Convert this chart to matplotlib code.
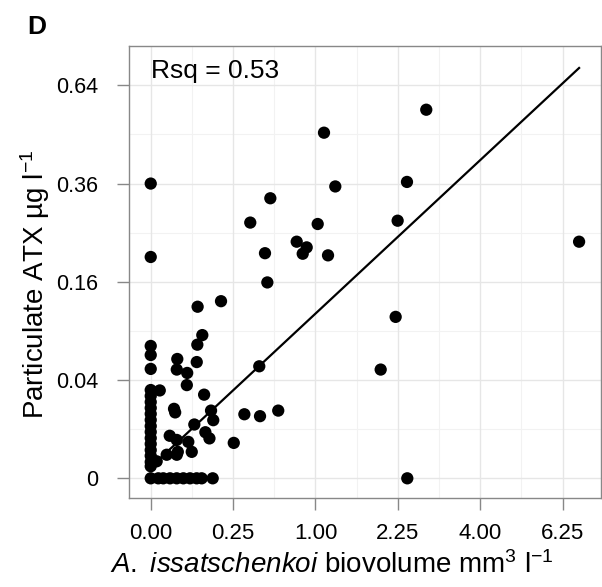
import numpy as np
import matplotlib
matplotlib.use("Agg")
import matplotlib.pyplot as plt

plt.rcParams["font.family"] = ["Liberation Sans", "DejaVu Sans"]
plt.rcParams["mathtext.fontset"] = "custom"
plt.rcParams["mathtext.rm"] = "Liberation Sans"
plt.rcParams["mathtext.it"] = "Liberation Sans:italic"

# biovolume (mm3 l-1) and particulate ATX (ug l-1)
biovolume = [
    1.106, 0.0, 1.255, 0.527, 0.365, 1.027, 0.785, 0.896, 0.851, 0.481,
    1.158, 0.0, 0.501, 2.797, 2.419, 2.246, 6.76, 2.210, 1.948, 2.425,
    0.182, 0.081, 0.098, 0.080, 0.078, 0.026, 0.025, 0.049, 0.048, 0.434,
    0.105, 0.003, 0.020, 0.022, 0.134, 0.144, 0.323, 0.440, 0.599, 0.070,
    0.110, 0.127, 0.0133, 0.025, 0.052, 0.062, 0.254, 0.027, 0.025, 0.0094,
    0.0013,
    0.0, 0.0, 0.0,
    0.0, 0.0, 0.0, 0.0, 0.0, 0.0, 0.0, 0.0, 0.0, 0.0, 0.0, 0.0, 0.0, 0.0,
    0.0,
    0.0021, 0.0058, 0.0137, 0.0249, 0.0392, 0.0568, 0.0777, 0.0957, 0.1415,
]
atx = [
    0.495, 0.36, 0.353, 0.325, 0.271, 0.268, 0.232, 0.221, 0.209, 0.210,
    0.206, 0.203, 0.159, 0.563, 0.364, 0.275, 0.232, 0.108, 0.049, 0.0,
    0.130, 0.122, 0.085, 0.074, 0.056, 0.059, 0.049, 0.046, 0.036, 0.052,
    0.029, 0.032, 0.020, 0.018, 0.019, 0.014, 0.017, 0.016, 0.019, 0.012,
    0.0088, 0.0066, 0.0075, 0.0061, 0.0055, 0.0029, 0.0052, 0.0029, 0.0023, 0.0023,
    0.0012,
    0.0726, 0.063, 0.0496,
    0.0323, 0.0281, 0.0241, 0.0205, 0.0172, 0.0141, 0.0113, 0.0089, 0.0067,
    0.0049, 0.0033, 0.0021, 0.0011, 0.0006,
    0.0,
    0.0, 0.0, 0.0, 0.0, 0.0, 0.0, 0.0, 0.0, 0.0,
]

# fitted line on the sqrt-sqrt scale
fit_intercept = 0.0228
fit_slope = 0.3125
rsq_label = "Rsq = 0.53"

x_ticks = [0.0, 0.25, 1.0, 2.25, 4.0, 6.25]
x_ticklabels = ["0.00", "0.25", "1.00", "2.25", "4.00", "6.25"]
y_ticks = [0.0, 0.04, 0.16, 0.36, 0.64]
y_ticklabels = ["0", "0.04", "0.16", "0.36", "0.64"]

sx = np.sqrt(biovolume)
sy = np.sqrt(atx)

fig = plt.figure(figsize=(6.02, 5.87), dpi=100)
ax = fig.add_axes([0.2148, 0.1511, 0.783, 0.7705])

# grid: major at ticks, minor halfway on the sqrt scale
xt = np.sqrt(x_ticks)
yt = np.sqrt(y_ticks)
for v in (xt[:-1] + xt[1:]) / 2:
    ax.axvline(v, color="#f2f2f2", lw=0.8, zorder=0)
for v in (yt[:-1] + yt[1:]) / 2:
    ax.axhline(v, color="#f2f2f2", lw=0.8, zorder=0)
for v in xt:
    ax.axvline(v, color="#e6e6e6", lw=1.0, zorder=0)
for v in yt:
    ax.axhline(v, color="#e6e6e6", lw=1.0, zorder=0)

ax.scatter(sx, sy, s=78, color="black", edgecolors="none", zorder=3)

lx = np.array([0, sx.max()])
ax.plot(lx, fit_intercept + fit_slope * lx, color="black", lw=1.6, zorder=2)

ax.text(0.0, 0.815, rsq_label, fontsize=19, va="baseline", ha="left")

ax.set_xlim(-0.130, 2.731)
ax.set_ylim(-0.0407, 0.880)
ax.set_xticks(xt)
ax.set_xticklabels(x_ticklabels, fontsize=16)
ax.set_yticks(yt)
ax.set_yticklabels(y_ticklabels, fontsize=15.5)
ax.tick_params(axis="both", color="#888888", length=8.5, width=1.0)
ax.tick_params(axis="x", pad=9)
ax.tick_params(axis="y", pad=14)
for sp in ax.spines.values():
    sp.set_color("#888888")
    sp.set_linewidth(1.0)

ax.set_xlabel(r"$\mathit{A.}$ $\mathit{issatschenkoi}$ biovolume mm$^3$ l$^{-1}$", fontsize=20)
ax.xaxis.set_label_coords(0.43, -0.147)
ax.xaxis.label.set_va("center")
ax.set_ylabel(r"Particulate ATX µg l$^{-1}$", fontsize=20)
ax.yaxis.set_label_coords(-0.2, 0.474)
ax.yaxis.label.set_va("center")

fig.text(0.045, 0.975, "D", fontsize=19, fontweight="bold", va="top", ha="left")

fig.savefig("out.png", dpi=100)
